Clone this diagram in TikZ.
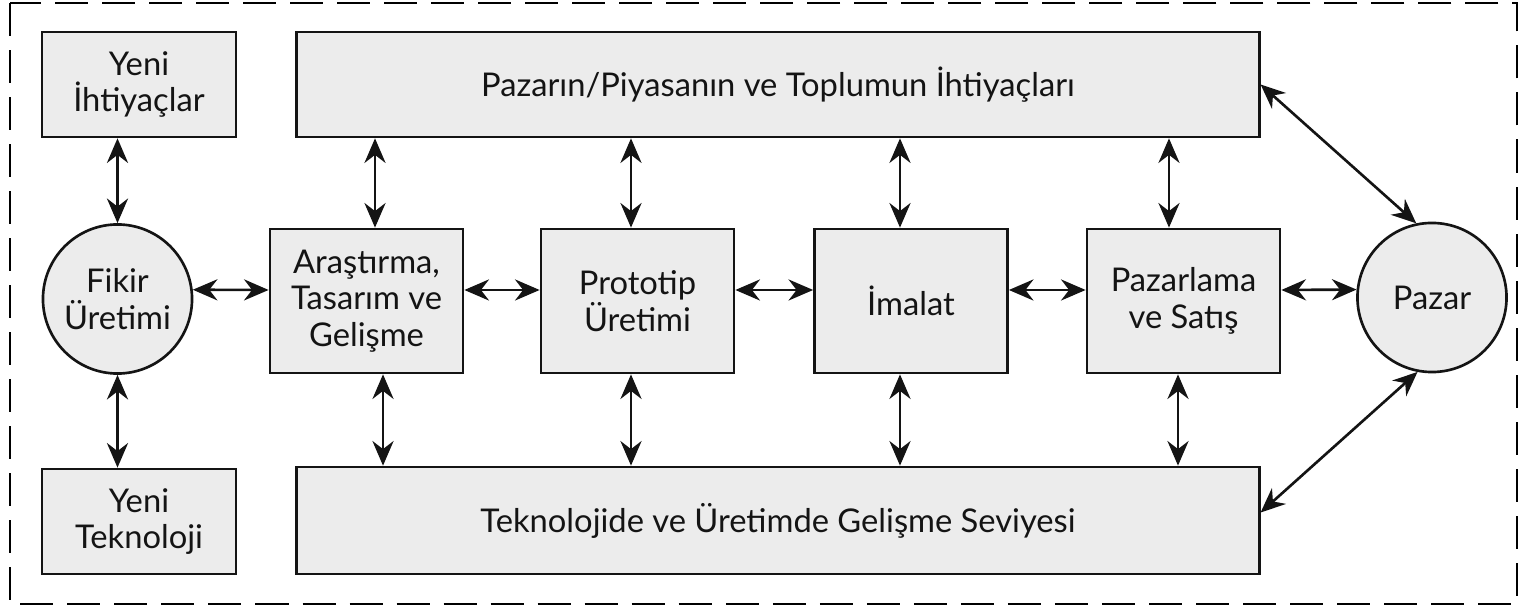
\documentclass[tikz,border=0pt]{standalone}
\usepackage{fontspec}
\setmainfont{Lato}
\usetikzlibrary{arrows.meta}
\definecolor{boxgray}{HTML}{ECECEC}
\definecolor{inkgray}{HTML}{141414}

\begin{document}
\begin{tikzpicture}[x=0.01cm, y=-0.01cm,
	box/.style={draw=inkgray, line width=0.75pt, fill=boxgray, align=center, inner sep=0pt,
		text=inkgray, font=\fontsize{9.3}{10.4}\selectfont},
	smallbox/.style={box, minimum width=1.94cm, minimum height=1.05cm},
	stagebox/.style={box, minimum width=1.93cm, minimum height=1.44cm},
	widebox/.style={box, minimum width=9.62cm, minimum height=1.05cm},
	bubble/.style={box, circle, minimum size=1.49cm},
	link/.style={{Stealth[length=7pt,width=6pt,inset=2.3pt]}-{Stealth[length=7pt,width=6pt,inset=2.3pt]},
		line width=0.75pt, draw=inkgray}]
	\useasboundingbox (0,0) rectangle (1521,607);
	%outer frame
	\draw[line width=0.7pt, dash pattern=on 0.33cm off 0.14cm] (10,3) rectangle (1517,604);
	
	%left column
	\node (needs) at (139,84.5) [smallbox]{Yeni\\İhtiyaçlar};
	\node (idea) at (117.5,299) [bubble]{Fikir\\Üretimi};
	\node (tech) at (139,521.5) [smallbox]{Yeni\\Teknoloji};
	
	%wide boxes
	\node (demand) at (778,84.5) [widebox]{Pazarın/Piyasanın ve Toplumun İhtiyaçları};
	\node (level) at (778,520.5) [widebox, minimum height=1.07cm]{Teknolojide ve Üretimde Gelişme Seviyesi};
	
	%stages
	\node (rd) at (366.5,301) [stagebox]{Araştırma,\\Tasarım ve\\Gelişme};
	\node (proto) at (637.5,301) [stagebox]{Prototip\\Üretimi};
	\node (manuf) at (911,301) [stagebox]{İmalat};
	\node (sales) at (1183.5,301) [stagebox]{Pazarlama\\ve Satış};
	\node (market) at (1432,297.5) [bubble]{Pazar};
	
	%arrows
	\draw[link] (idea.north) -- (idea.north |- needs.south);
	\draw[link] (idea.south) -- (idea.south |- tech.north);
	\draw[link] (idea.7) -- ([yshift=0.11cm]rd.west);
	\draw[link] ([yshift=0.11cm]rd.east) -- ([yshift=0.11cm]proto.west);
	\draw[link] ([yshift=0.11cm]proto.east) -- ([yshift=0.11cm]manuf.west);
	\draw[link] ([yshift=0.11cm]manuf.east) -- ([yshift=0.11cm]sales.west);
	\draw[link] ([yshift=0.11cm]sales.east) -- (market.174);
	\foreach \n/\a/\b in {rd/0.085/0.165, proto/-0.065/-0.065, manuf/-0.11/-0.11, sales/-0.145/-0.055}{
		\draw[link] ([xshift=\a cm]\n.north) -- ([xshift=\a cm]\n.north |- demand.south);
		\draw[link] ([xshift=\b cm]\n.south) -- ([xshift=\b cm]\n.south |- level.north);
	}
	\draw[link] (demand.east) -- (market.102);
	\draw[link] ([yshift=0.08cm]level.east) -- (market.259);
\end{tikzpicture}
\end{document}
